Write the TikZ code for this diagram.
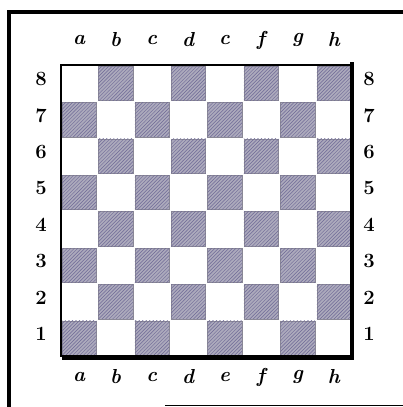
\documentclass[tikz,border=0pt]{standalone}
\usetikzlibrary{patterns}
\definecolor{sqfill}{RGB}{172,170,188}
\definecolor{sqhatch}{RGB}{110,105,150}
\begin{document}
\begin{tikzpicture}[x=0.03cm, y=-0.03cm,
        file/.style={font=\LARGE\bfseries\itshape},
        rank/.style={font=\LARGE\bfseries},
        darksq/.style={fill=sqfill, draw=sqfill!80!black, line width=0.3pt,
                postaction={pattern=north east lines, pattern color=sqhatch}}]
                \useasboundingbox (0,0) rectangle (403,407);
                \coordinate (TL) at (61,65);
                \coordinate (BR) at (352,356);

                % cadre de la page
                \draw[line width=3pt] (9,407) -- (9,12) -- (403,12);
                \draw[line width=0.8pt] (165,405) -- (403,405);

                % cases sombres
                \foreach \i in {0,...,7}
                    \foreach \j in {0,...,7} {
                        \pgfmathtruncatemacro{\sqpar}{mod(\i+\j,2)}
                        \ifnum\sqpar=1
                            \filldraw[darksq] (61+\i*36.4+1,65+\j*36.4+1) rectangle ++(34.4,34.4);
                        \fi
                    }

                % bord de l'echiquier
                \draw[line width=1.4pt] (TL) rectangle (BR);
                \draw[line width=2.8pt] (352,62) -- (352,358) -- (62,358);

                % lettres et chiffres
                \foreach \f/\t [count=\k from 0] in {a/a,b/b,c/c,d/d,e/c,f/f,g/g,h/h} {
                    \node[file] (top\f) at (79+\k*36.4,40) {\t};
                    \node[file] (bot\f) at (79+\k*36.4,377) {\f};
                }
                \foreach \r [count=\k from 0] in {8,7,6,5,4,3,2,1} {
                    \node[rank] (left\r) at (41,79+\k*36.4) {\r};
                    \node[rank] (right\r) at (369,79+\k*36.4) {\r};
                }
            \end{tikzpicture}
\end{document}
